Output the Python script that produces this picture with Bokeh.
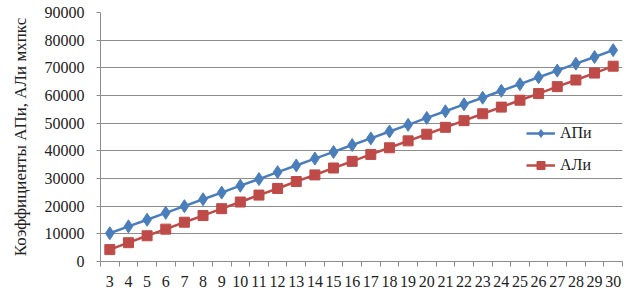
from bokeh.plotting import figure
from bokeh.models import FixedTicker, Legend, LegendItem, Range1d
from bokeh.embed import file_html
from bokeh.resources import INLINE

categories = list(range(3, 31))
tick_labels = [str(c) for c in categories]
api = [10200, 12700, 15100, 17600, 20000, 22500, 24900, 27400, 29800, 32300,
       34700, 37200, 39600, 42100, 44500, 47000, 49400, 51900, 54300, 56800,
       59200, 61700, 64100, 66600, 69000, 71500, 73900, 76400]
ali = [4300, 6800, 9300, 11700, 14200, 16600, 19100, 21500, 24000, 26400,
       28900, 31300, 33800, 36200, 38700, 41100, 43600, 46000, 48500, 50900,
       53400, 55800, 58300, 60700, 63200, 65600, 68100, 70600]
y_ticks = list(range(0, 90001, 10000))

BLUE = "#4A7EBB"
RED = "#BE4B48"
FONT = "'Liberation Serif', 'Times New Roman', serif"

p = figure(width=630, height=294, output_backend="svg", toolbar_location=None,
           x_range=Range1d(categories[0] - 0.5, categories[-1] + 0.5),
           y_range=Range1d(0, 90000),
           min_border_left=100, min_border_right=8, min_border_top=12, min_border_bottom=33)
p.outline_line_color = None
p.background_fill_color = "white"

p.xgrid.visible = False
p.ygrid.grid_line_color = "#8C8C8C"
p.ygrid.grid_line_width = 1

p.xaxis.ticker = FixedTicker(ticks=categories,
                             minor_ticks=[c - 0.5 for c in categories] + [categories[-1] + 0.5])
p.xaxis.major_label_overrides = {c: l for c, l in zip(categories, tick_labels)}
p.xaxis.major_tick_line_color = None
p.xaxis.minor_tick_line_color = "#8C8C8C"
p.xaxis.minor_tick_out = 5
p.xaxis.minor_tick_in = 0
p.xaxis.axis_line_color = "#8C8C8C"
p.xaxis.major_label_standoff = 8

p.yaxis.ticker = FixedTicker(ticks=y_ticks)
p.yaxis.minor_tick_line_color = None
p.yaxis.major_tick_line_color = "#8C8C8C"
p.yaxis.major_tick_out = 4
p.yaxis.major_tick_in = 0
p.yaxis.axis_line_color = "#8C8C8C"
p.yaxis.major_label_standoff = 12
p.yaxis.axis_label = "Коэффициенты AПи, AЛи мхпкс"
p.yaxis.axis_label_text_font_style = "normal"
p.yaxis.axis_label_standoff = 12

for ax in (p.xaxis, p.yaxis):
    ax.major_label_text_font = FONT
    ax.major_label_text_font_size = "16px"
    ax.major_label_text_color = "#222222"
    ax.axis_label_text_font = FONT
    ax.axis_label_text_font_size = "17px"
    ax.axis_label_text_color = "#222222"

l1 = p.line(categories, api, line_color=BLUE, line_width=2.5)
s1 = p.scatter(categories, api, marker="diamond", size=13, fill_color=BLUE, line_color=BLUE)
l2 = p.line(categories, ali, line_color=RED, line_width=2.5)
s2 = p.scatter(categories, ali, marker="square", size=10, fill_color=RED, line_color=RED)

legend = Legend(items=[LegendItem(label="АПи", renderers=[l1, s1]),
                       LegendItem(label="АЛи", renderers=[l2, s2])],
                location=(426, 86), orientation="vertical",
                background_fill_alpha=0, border_line_color=None,
                padding=0, margin=0, spacing=12, glyph_height=20, glyph_width=29,
                label_standoff=5, label_text_font=FONT, label_text_font_size="16px",
                label_text_color="#222222")
p.add_layout(legend)

open("out.html", "w").write(file_html(p, INLINE))
